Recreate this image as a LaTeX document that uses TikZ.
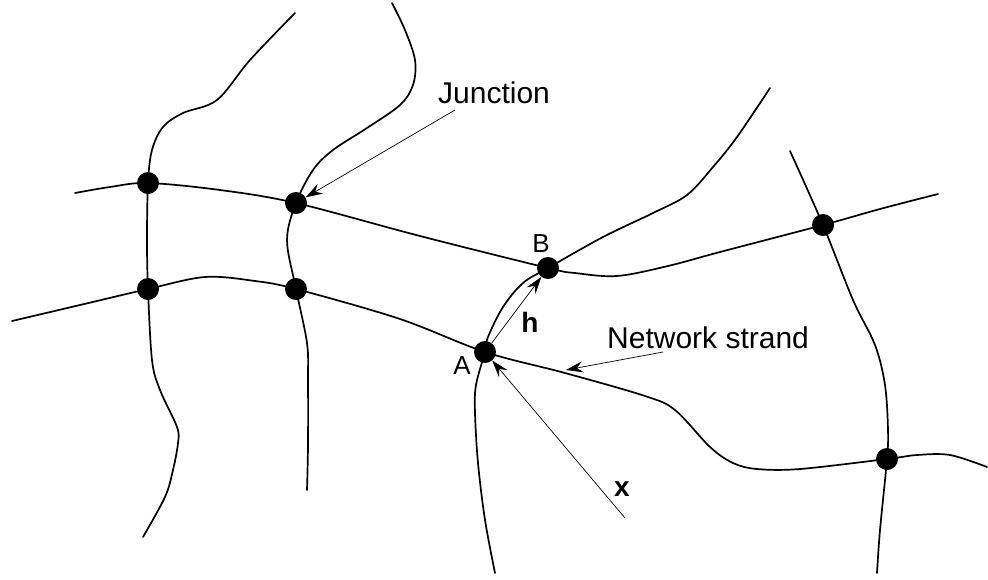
\documentclass[tikz,border=0pt]{standalone}
\usepackage{fontspec}
\setmainfont{Liberation Sans}
\usetikzlibrary{arrows.meta}
\begin{document}
\begin{tikzpicture}[x=1pt,y=-1pt,
  strand/.style={line width=1.7pt,line cap=round,line join=round},
  jdot/.style={circle,fill=black,draw=none,minimum size=22pt,inner sep=0pt},
  pointer/.style={line width=0.7pt,-{Stealth[length=17pt,width=11pt,inset=6pt]}},
  bigtxt/.style={font=\fontsize{30}{35}\selectfont,inner sep=0pt},
  ptxt/.style={font=\fontsize{26}{31}\selectfont,inner sep=0pt},
  vtxt/.style={font=\fontsize{28}{33}\selectfont\bfseries,inner sep=0pt}]
\useasboundingbox (0,0) rectangle (988,579);
% junction centres
\coordinate (cJ1) at (148,183);
\coordinate (cJ2) at (296,203);
\coordinate (cJ3) at (148,289);
\coordinate (cJ4) at (296,289);
\coordinate (cB) at (548,268);
\coordinate (cA) at (485,352);
\coordinate (cJ7) at (823,225);
\coordinate (cJ8) at (887,459);
% strands
\draw[strand] plot[smooth,tension=0.55] coordinates {(75,193) (110,187) (cJ1) (220,190) (cJ2) (420,236) (cB) (575,273) (617,276) (668,266) (720,252) (cJ7) (880,209) (938,194)};
\draw[strand] plot[smooth,tension=0.55] coordinates {(12,321) (80,305) (cJ3) (205,277) (255,281) (cJ4) (400,319) (cA) (565,373) (645,396) (675,410) (710,447) (733,463) (757,469) (800,469) (cJ8) (917,455) (950,455) (987,467)};
\draw[strand] plot[smooth,tension=0.55] coordinates {(295,13) (250,60) (217,100) (183,113) (163,127) (152,150) (cJ1) (147,240) (cJ3) (152,360) (160,390) (177,427) (178,443) (173,470) (165,497) (143,537)};
\draw[strand] plot[smooth,tension=0.55] coordinates {(392,3) (405,30) (415,60) (413,85) (400,105) (367,128) (333,150) (313,170) (cJ2) (287,240) (cJ4) (307,343) (308,380) (308,445) (307,490)};
\draw[strand] plot[smooth,tension=0.55] coordinates {(770,88) (737,137) (713,167) (687,195) (653,213) (603,237) (cB) (523,283) (503,307) (488,337) (cA) (476,385) (475,413) (478,463) (485,520) (495,573)};
\draw[strand] plot[smooth,tension=0.55] coordinates {(790,151) (cJ7) (853,300) (875,345) (885,385) (888,430) (cJ8) (880,530) (877,573)};
% junction dots
\node[jdot] (J1) at (cJ1) {};
\node[jdot] (J2) at (cJ2) {};
\node[jdot] (J3) at (cJ3) {};
\node[jdot] (J4) at (cJ4) {};
\node[jdot] (B) at (cB) {};
\node[jdot] (A) at (cA) {};
\node[jdot] (J7) at (cJ7) {};
\node[jdot] (J8) at (cJ8) {};
% labels
\node[bigtxt,anchor=base west] (junctionlbl) at (438,103) {Junction};
\node[bigtxt,anchor=base west] (strandlbl) at (607,348) {Network strand};
\node[ptxt] (Albl) at (462,366) {A};
\node[ptxt] (Blbl) at (541,244) {B};
\node[vtxt] (hlbl) at (530,322) {h};
\node[vtxt] (xlbl) at (622,489) {x};
% pointers
\coordinate (jstart) at (455,110);
\coordinate (sstart) at (663,352);
\coordinate (send) at (566,370);
\coordinate (xstart) at (625,518);
\draw[pointer] (jstart) -- (J2);
\draw[pointer] (sstart) -- (send);
\draw[pointer] (A) -- (B);
\draw[pointer] (xstart) -- (A);
\end{tikzpicture}
\end{document}
